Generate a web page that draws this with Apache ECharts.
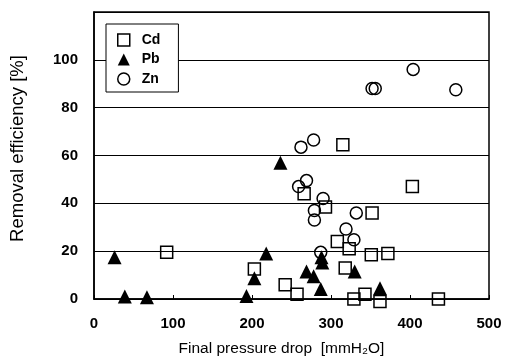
<!DOCTYPE html>
<html>
<head>
<meta charset="utf-8">
<script src="https://cdn.jsdelivr.net/npm/echarts@6/dist/echarts.min.js"></script>
<style>
  html, body { margin: 0; padding: 0; background: #fff; }
</style>
</head>
<body>
<!-- chart container -->
<div id="main" style="width: 505px;height:362px"></div>
<script>
  // [final pressure drop, removal efficiency]
  var cdData = [
    [92, 19.5], [203, 12.5], [242, 6], [257, 2], [266, 44], [293, 38.5],
    [315, 64.5], [308, 24], [323, 21], [318, 13], [329, 0], [343, 2],
    [352, 36], [351, 18.5], [372, 19], [362, -1], [403, 47], [436, 0]
  ];
  var pbData = [
    [26, 17.5], [39, 1], [67, 0.7], [193, 1.3], [203, 8.7], [218, 19],
    [236, 57], [269, 11.5], [278, 9.5], [287, 4.2], [288, 17.5], [289, 15.3],
    [330, 11.5], [362, 4.5]
  ];
  var znData = [
    [262, 63.5], [278, 66.5], [259, 47], [269, 49.5], [290, 42], [279, 37],
    [279, 33], [332, 36], [319, 29.3], [329, 24.8], [287, 19.5], [352, 88],
    [356, 88], [404, 96], [458, 87.5]
  ];
  var seriesNames = ['Cd', 'Pb', 'Zn'];

  var font = 'Liberation Sans, Arial, sans-serif';
  var myChart = echarts.init(document.getElementById('main'));

  myChart.setOption({
    backgroundColor: '#fff',
    animation: false,
    grid: {
      left: 86, right: 16, top: 12, bottom: 62,
      show: true,
      borderColor: '#000',
      borderWidth: 1.5
    },
    legend: {
      orient: 'vertical',
      left: 106,
      top: 24,
      padding: [9, 18, 6, 11],
      itemWidth: 12,
      itemHeight: 12,
      itemGap: 5.5,
      backgroundColor: '#fff',
      borderColor: '#000',
      borderWidth: 1,
      z: 10,
      textStyle: { fontFamily: font, fontSize: 14, fontWeight: 'bold', color: '#000', padding: [0, 0, 0, 7] },
      data: [
        { name: 'Cd', icon: 'rect', itemStyle: { color: 'transparent', borderColor: '#000', borderWidth: 1.5 } },
        { name: 'Pb', icon: 'triangle', itemStyle: { color: '#000', borderWidth: 0 } },
        { name: 'Zn', icon: 'circle', itemStyle: { color: 'transparent', borderColor: '#000', borderWidth: 1.5 } }
      ]
    },
    // x axis
    xAxis: {
      type: 'value',
      min: 0, max: 500, interval: 100,
      name: 'Final pressure drop  [mmH\u2082O]',
      nameLocation: 'middle',
      nameGap: 42,
      nameTextStyle: { fontFamily: font, fontSize: 15.5, color: '#000', padding: [0, 20, 0, 0] },
      axisLine: { lineStyle: { color: '#000', width: 1.5 } },
      axisTick: { show: true, inside: true, length: 4, lineStyle: { color: '#000' } },
      axisLabel: { fontFamily: font, fontSize: 15, fontWeight: 'bold', color: '#000', margin: 17 },
      splitLine: { show: false }
    },
    // y axis
    yAxis: {
      type: 'value',
      min: 0, max: 120, interval: 20,
      name: 'Removal efficiency [%]',
      nameLocation: 'middle',
      nameGap: 67,
      nameTextStyle: { fontFamily: font, fontSize: 18.5, color: '#000', padding: [0, 0, 0, 14] },
      axisLine: { lineStyle: { color: '#000', width: 1.5 } },
      axisTick: { show: false },
      axisLabel: {
        fontFamily: font, fontSize: 15, fontWeight: 'bold', color: '#000', margin: 16,
        formatter: function (v) { return v > 100 ? '' : v; }
      },
      splitLine: { show: true, lineStyle: { color: '#000', width: 1 } }
    },
    series: [{
      name: seriesNames[0],
      type: 'scatter',
      symbol: 'rect',
      symbolSize: 12,
      clip: false,
      itemStyle: { color: 'transparent', borderColor: '#000', borderWidth: 1.5, opacity: 1 },
      data: cdData
    }, {
      name: seriesNames[1],
      type: 'scatter',
      symbol: 'triangle',
      symbolSize: 14,
      clip: false,
      itemStyle: { color: '#000', opacity: 1 },
      data: pbData
    }, {
      name: seriesNames[2],
      type: 'scatter',
      symbol: 'circle',
      symbolSize: 12,
      clip: false,
      itemStyle: { color: 'transparent', borderColor: '#000', borderWidth: 1.5, opacity: 1 },
      data: znData
    }]
  });
</script>
</body>
</html>
